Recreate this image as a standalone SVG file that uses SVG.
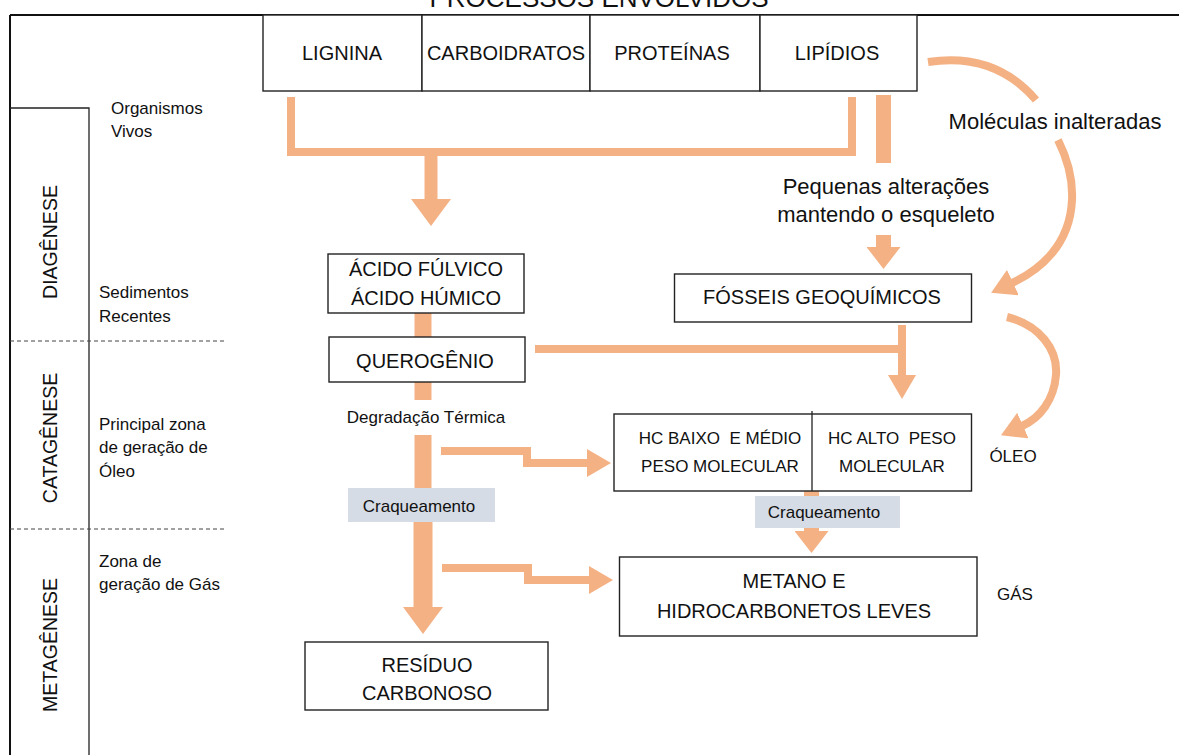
<svg xmlns="http://www.w3.org/2000/svg" width="1179" height="755" viewBox="0 0 1179 755">
<style>
text{font-family:"Liberation Sans",Arial,sans-serif;fill:#111}
.box{fill:#fff;stroke:#222;stroke-width:1.4}
.frame{fill:none;stroke:#111;stroke-width:2}
.thin{fill:none;stroke:#222;stroke-width:1.3}
.dash{fill:none;stroke:#444;stroke-width:1.2;stroke-dasharray:4 3}
.lbl{font-size:20px;text-anchor:middle}
.lbl17{font-size:17px;text-anchor:middle}
.side{font-size:17px}
.phase{font-size:19.5px;text-anchor:middle}
.big{font-size:22px;text-anchor:middle}
.crk{fill:#D6DCE5}
.o{fill:none;stroke:#F4B183}
</style>
<defs>
<marker id="hBig" markerUnits="userSpaceOnUse" markerWidth="27" markerHeight="40" refX="1" refY="20" orient="auto"><path d="M0,0 L27,20 L0,40 Z" fill="#F4B183"/></marker>
<marker id="hMid" markerUnits="userSpaceOnUse" markerWidth="22" markerHeight="34" refX="1" refY="17" orient="auto"><path d="M0,0 L22,17 L0,34 Z" fill="#F4B183"/></marker>
<marker id="hThin" markerUnits="userSpaceOnUse" markerWidth="24" markerHeight="28" refX="1" refY="14" orient="auto"><path d="M0,0 L24,14 L0,28 Z" fill="#F4B183"/></marker>
</defs>

<text x="599" y="7" style="font-size:26px;text-anchor:middle">PROCESSOS ENVOLVIDOS</text>

<g id="frame">
<path class="frame" d="M10,15 H1179 M10,15 V755"/>
<path class="thin" d="M10,108 H89 V755"/>
<path class="dash" d="M10,341 H227 M10,529 H227"/>
</g>

<g id="phases">
<text class="phase" transform="translate(57,242) rotate(-90)">DIAGÊNESE</text>
<text class="phase" transform="translate(57,438) rotate(-90)">CATAGÊNESE</text>
<text class="phase" transform="translate(57,645) rotate(-90)">METAGÊNESE</text>
</g>

<g id="zones">
<text class="side" x="111" y="114">Organismos</text>
<text class="side" x="111" y="137">Vivos</text>
<text class="side" x="99" y="298">Sedimentos</text>
<text class="side" x="99" y="322">Recentes</text>
<text class="side" x="99" y="430">Principal zona</text>
<text class="side" x="99" y="453">de geração de</text>
<text class="side" x="99" y="477">Óleo</text>
<text class="side" x="99" y="567">Zona de</text>
<text class="side" x="99" y="590">geração de Gás</text>
</g>

<g id="connectors">
<path class="o" stroke-width="8" d="M291,97 V152 H852 V97"/>
<path class="o" stroke-width="13" d="M431,152 V200" marker-end="url(#hBig)"/>
<path class="o" stroke-width="15" d="M883.5,95 V163"/>
<path class="o" stroke-width="15" d="M883.5,235 V248" marker-end="url(#hMid)"/>
<path class="o" stroke-width="8" d="M928,62 Q995,52 1036,100"/>
<path class="o" stroke-width="8" d="M1058,140 C1068,160 1073,180 1072,200 C1070,245 1040,270 1012,283" marker-end="url(#hThin)"/>
<path class="o" stroke-width="17" d="M423,313 V337"/>
<path class="o" stroke-width="17" d="M423,382 V400"/>
<path class="o" stroke-width="17" d="M423,435 V489"/>
<path class="o" stroke-width="19" d="M423,522 V608" marker-end="url(#hBig)"/>
<path class="o" stroke-width="8" d="M535,349 H906"/>
<path class="o" stroke-width="8" d="M902,325 V376" marker-end="url(#hThin)"/>
<path class="o" stroke-width="8" d="M441,451 H527 V463 H588" marker-end="url(#hThin)"/>
<path class="o" stroke-width="8" d="M442,568 H528 V580 H590" marker-end="url(#hThin)"/>
<path class="o" stroke-width="15" d="M811.5,491 V497"/>
<path class="o" stroke-width="15" d="M811.5,528 V532" marker-end="url(#hMid)"/>
<path class="o" stroke-width="8" d="M1007,317 C1040,325 1058,350 1056,375 C1054,400 1040,418 1022,426" marker-end="url(#hThin)"/>
</g>

<g id="labels">
<text class="big" x="1055" y="129">Moléculas inalteradas</text>
<text class="big" x="886" y="194">Pequenas alterações</text>
<text class="big" x="886" y="222">mantendo o esqueleto</text>
<text class="lbl17" x="426" y="423">Degradação Térmica</text>
<text class="lbl17" x="1013" y="462">ÓLEO</text>
<text class="lbl17" x="1015" y="600">GÁS</text>
</g>

<g id="lignina"><rect class="box" x="263" y="15" width="159" height="76"/><text class="lbl" x="342" y="60">LIGNINA</text></g>
<g id="carboidratos"><rect class="box" x="422" y="15" width="168" height="76"/><text class="lbl" x="506" y="60">CARBOIDRATOS</text></g>
<g id="proteinas"><rect class="box" x="590" y="15" width="170" height="76"/><text class="lbl" x="672" y="60">PROTEÍNAS</text></g>
<g id="lipidios"><rect class="box" x="760" y="15" width="157" height="76"/><text class="lbl" x="837" y="60">LIPÍDIOS</text></g>

<g id="acidos"><rect class="box" x="328" y="254" width="196" height="59"/><text class="lbl" x="426" y="276">ÁCIDO FÚLVICO</text><text class="lbl" x="426" y="305">ÁCIDO HÚMICO</text></g>
<g id="querogenio"><rect class="box" x="329" y="337" width="196" height="45"/><text class="lbl" x="425" y="368">QUEROGÊNIO</text></g>
<g id="fosseis"><rect class="box" x="674.5" y="274" width="297" height="48"/><text class="lbl" x="822" y="304">FÓSSEIS GEOQUÍMICOS</text></g>

<g id="craqueamento1"><rect class="crk" x="348" y="488" width="147" height="34"/><text class="lbl17" x="419" y="512">Craqueamento</text></g>

<g id="hc"><rect class="box" x="614" y="414" width="357.5" height="77"/><path class="thin" d="M812,411 V491"/>
<text class="lbl17" x="720" y="444" xml:space="preserve">HC BAIXO  E MÉDIO</text><text class="lbl17" x="720" y="472">PESO MOLECULAR</text>
<text class="lbl17" x="892" y="444" xml:space="preserve">HC ALTO  PESO</text><text class="lbl17" x="892" y="472">MOLECULAR</text></g>

<g id="craqueamento2"><rect class="crk" x="755" y="496" width="145" height="32"/><text class="lbl17" x="824" y="518">Craqueamento</text></g>

<g id="metano"><rect class="box" x="619.5" y="557" width="357.5" height="79"/><text class="lbl" x="794" y="588">METANO E</text><text class="lbl" x="794" y="618">HIDROCARBONETOS LEVES</text></g>

<g id="residuo"><rect class="box" x="305" y="642" width="243" height="68"/><text class="lbl" x="427" y="672">RESÍDUO</text><text class="lbl" x="427" y="700">CARBONOSO</text></g>
</svg>
